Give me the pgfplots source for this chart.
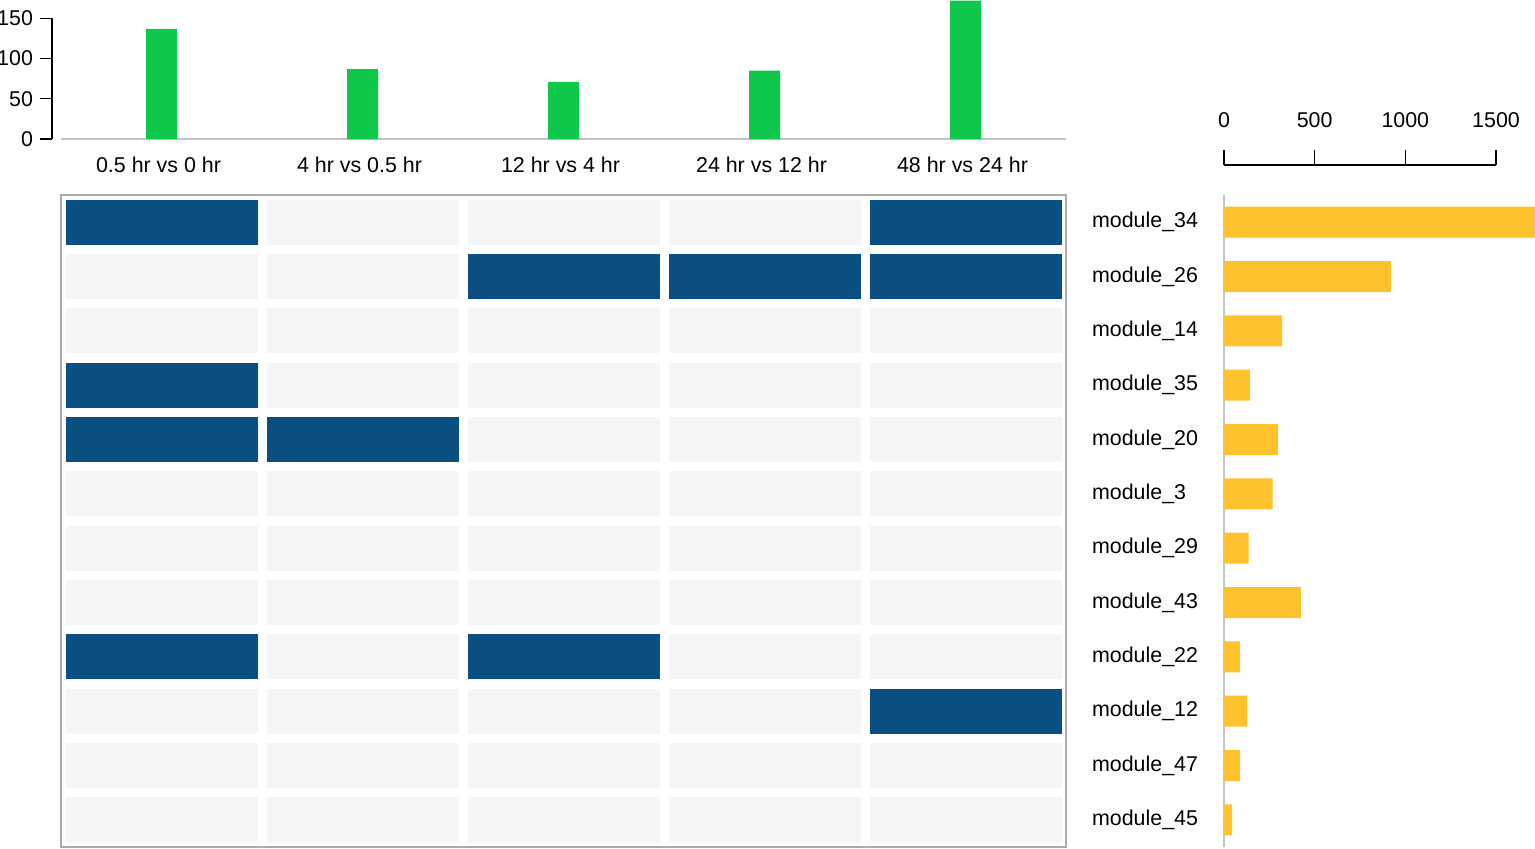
\documentclass[border=0pt]{standalone}
\usepackage{fontspec}
\setmainfont{Liberation Sans}
\usepackage{pgfplots}
\usepackage{pgfplotstable}
\pgfplotsset{compat=1.18}
\definecolor{grn}{HTML}{0EC84B}
\definecolor{yel}{HTML}{FEC22F}
\definecolor{hmdark}{HTML}{0B4F82}
\definecolor{hmlight}{HTML}{F5F5F5}
\definecolor{bord}{HTML}{ABABAB}
\definecolor{axgray}{HTML}{C4C4C4}
\pgfdeclareplotmark{cell}{\pgfpathrectangle{\pgfpoint{-48pt}{-11.3pt}}{\pgfpoint{96pt}{22.6pt}}\pgfusepathqfill}
\pgfplotstableread{
x y
0 137
1 87
2 71
3 85
4 172
}\topbars
\pgfplotstableread{
v y
1714 0
920 1
320 2
142 3
298 4
268 5
136 6
423 7
88 8
127 9
88 10
44 11
}\rightbars
\pgfplotstableread{
x y c
0 0 d
1 0 l
2 0 l
3 0 l
4 0 d
0 1 l
1 1 l
2 1 d
3 1 d
4 1 d
0 2 l
1 2 l
2 2 l
3 2 l
4 2 l
0 3 d
1 3 l
2 3 l
3 3 l
4 3 l
0 4 d
1 4 d
2 4 l
3 4 l
4 4 l
0 5 l
1 5 l
2 5 l
3 5 l
4 5 l
0 6 l
1 6 l
2 6 l
3 6 l
4 6 l
0 7 l
1 7 l
2 7 l
3 7 l
4 7 l
0 8 d
1 8 l
2 8 d
3 8 l
4 8 l
0 9 l
1 9 l
2 9 l
3 9 l
4 9 d
0 10 l
1 10 l
2 10 l
3 10 l
4 10 l
0 11 l
1 11 l
2 11 l
3 11 l
4 11 l
}\heat
\begin{document}
\begin{tikzpicture}
\path[use as bounding box] (0,0) rectangle (767.5pt,-424pt);
\pgfplotsset{every axis/.append style={
  scale only axis,
  font=\fontsize{10.7}{13}\selectfont,
  tick label style={font=\fontsize{10.7}{13}\selectfont},
  /pgf/number format/assume math mode=true,
  /pgf/number format/1000 sep={}}}
% top bar chart
\begin{axis}[
  at={(26pt,-69.5pt)}, anchor=south west,
  width=507pt, height=60.35pt,
  xmin=-0.545, xmax=4.5, ymin=0, ymax=150,
  axis y line*=left, axis x line*=bottom,
  x axis line style={draw=none},
  y axis line style={black, line width=0.6pt},
  ytick={0,50,100,150},
  ytick style={black, line width=0.6pt},
  tick align=outside, major tick length=6pt,
  xtick={0,1,2,3,4},
  xticklabels={0.5 hr vs 0 hr,4 hr vs 0.5 hr,12 hr vs 4 hr,24 hr vs 12 hr,48 hr vs 24 hr},
  xtick style={draw=none},
  xticklabel style={yshift=0.5pt, xshift=-1.5pt},
  clip=false,
]
\draw[axgray, line width=0.6pt] (axis cs:-0.5,0) -- (axis cs:4.5,0);
\addplot[ybar, bar width=15.5pt, fill=grn, draw=none] table[x=x,y=y] {\topbars};
\end{axis}
% heatmap
\begin{axis}[
  at={(30.5pt,-423.5pt)}, anchor=south west,
  width=502.5pt, height=326pt,
  xmin=-0.5, xmax=4.5, ymin=-0.5, ymax=11.5, y dir=reverse,
  axis line style={bord, line width=0.7pt},
  xtick=\empty, ytick=\empty,
]
\addplot[scatter, only marks, scatter src=explicit symbolic,
  scatter/classes={l={mark=cell,fill=hmlight,draw=none}, d={mark=cell,fill=hmdark,draw=none}}]
  table[x=x,y=y,meta=c] {\heat};
\end{axis}
% right bars
\begin{axis}[
  at={(612pt,-423.5pt)}, anchor=south west,
  width=155.5pt, height=326pt,
  xmin=0, xmax=1714, ymin=-0.5, ymax=11.5, y dir=reverse,
  axis y line*=left, axis x line=none,
  y axis line style={axgray, line width=0.7pt},
  ytick={0,...,11},
  yticklabels={module\_34,module\_26,module\_14,module\_35,module\_20,module\_3,module\_29,module\_43,module\_22,module\_12,module\_47,module\_45},
  ytick style={draw=none},
  yticklabel style={anchor=west, xshift=-69.5pt},
]
\addplot[xbar, bar width=15.5pt, fill=yel, draw=none] table[x=v,y=y] {\rightbars};
\end{axis}
% scale for right bars
\begin{axis}[
  at={(612pt,-82.5pt)}, anchor=north west,
  width=136pt, height=15pt,
  xmin=0, xmax=1500, ymin=0, ymax=1,
  axis x line*=top, axis y line=none,
  x axis line style={black, line width=0.6pt},
  xtick={0,500,1000,1500},
  xtick style={black, line width=0.6pt},
  tick align=outside, major tick length=7.5pt,
  xticklabel style={yshift=7.5pt},
]
\addplot[draw=none] coordinates {(0,0)};
\end{axis}
\end{tikzpicture}
\end{document}
